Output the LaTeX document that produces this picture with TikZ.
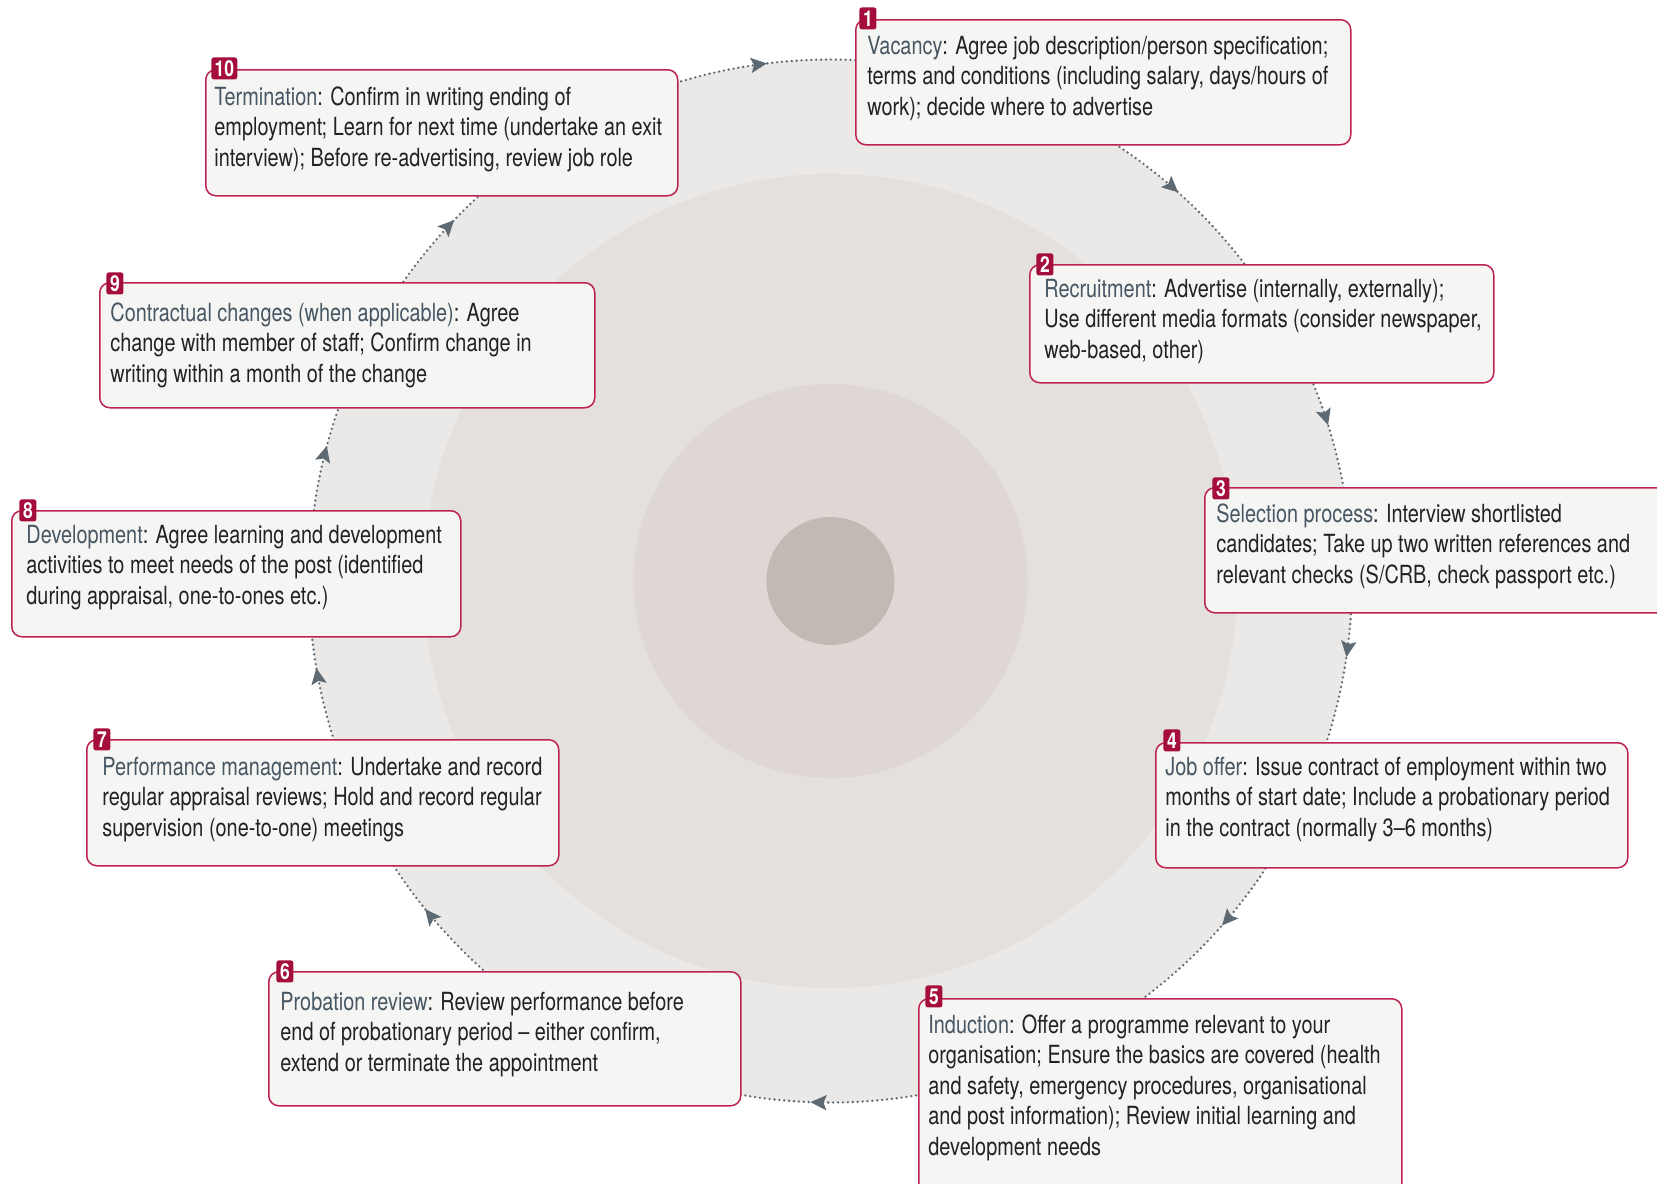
\documentclass[tikz,border=0pt]{standalone}
\usepackage{fontspec}
\setmainfont{TeX Gyre Heros}[FakeStretch=0.795]
\usetikzlibrary{arrows.meta,decorations.markings}
\definecolor{discA}{HTML}{EBE9E7}
\definecolor{discB}{HTML}{E4E0DD}
\definecolor{discC}{HTML}{DED7D3}
\definecolor{discD}{HTML}{C2B8B4}
\definecolor{crim}{HTML}{BE2350}
\definecolor{badgecol}{HTML}{A50D3C}
\definecolor{boxfill}{HTML}{F5F5F3}
\definecolor{slate}{HTML}{465663}
\definecolor{bodytxt}{HTML}{222222}
\definecolor{dotcol}{HTML}{5E6A73}
\newcommand{\ttl}[1]{\textcolor{slate}{#1}}
\begin{document}
\begin{tikzpicture}[x=0.5pt,y=-0.5pt,
  stagebox/.style={draw=crim, line width=0.75pt, fill=boxfill, rounded corners=5pt, anchor=north west, inner sep=0pt},
  badge/.style={fill=badgecol, text=white, font=\bfseries\fontsize{11}{11}\selectfont, rounded corners=1.2pt, anchor=north west, inner xsep=1.6pt, inner ysep=0pt, minimum height=11pt, minimum width=8.5pt},
  stagetext/.style={anchor=base west, inner sep=0pt, align=left, text=bodytxt, font=\fontsize{12.5}{15.25}\selectfont},
  cycarc/.style={draw=dotcol, line width=1.3pt, line cap=round, dash pattern=on 0pt off 2.45pt},
  cyctip/.style={postaction={decorate, decoration={markings, mark=at position #1 with {\arrow[dotcol]{Stealth[length=8pt,width=7.5pt,inset=1.5pt]}}}}}
]
\useasboundingbox (0,0) rectangle (1657,1183);
\fill[white] (0,0) rectangle (1657,1183);
\coordinate (C) at (830.5,581);
% discs
\fill[discA] (C) circle[radius=521.5];
\fill[discB] (C) circle[radius=407];
\fill[discC] (C) circle[radius=197];
\fill[discD] (C) circle[radius=64];
% cycle connectors
\draw[cycarc, cyctip=0.502] ([shift={(-108.8:521.5)}]C) arc[start angle=-108.8, end angle=-85.3, radius=521.5];
\draw[cycarc, cyctip=0.45] ([shift={(-58.5:521.5)}]C) arc[start angle=-58.5, end angle=-35.6, radius=521.5];
\draw[cycarc, cyctip=0.437] ([shift={(-24.3:521.5)}]C) arc[start angle=-24.3, end angle=-8.5, radius=521.5];
\draw[cycarc, cyctip=0.38] ([shift={(1.5:521.5)}]C) arc[start angle=1.5, end angle=19.65, radius=521.5];
\draw[cycarc, cyctip=0.44] ([shift={(31.3:521.5)}]C) arc[start angle=31.3, end angle=54.1, radius=521.5];
\draw[cycarc, cyctip=0.585] ([shift={(78.4:521.5)}]C) arc[start angle=78.4, end angle=102, radius=521.5];
\draw[cycarc, cyctip=0.578] ([shift={(130.2:521.5)}]C) arc[start angle=130.2, end angle=148.9, radius=521.5];
\draw[cycarc, cyctip=0.64] ([shift={(160.6:521.5)}]C) arc[start angle=160.6, end angle=175.9, radius=521.5];
\draw[cycarc, cyctip=0.587] ([shift={(186.2:521.5)}]C) arc[start angle=186.2, end angle=201.2, radius=521.5];
\draw[cycarc, cyctip=0.646] ([shift={(213.4:521.5)}]C) arc[start angle=213.4, end angle=229.5, radius=521.5];
% boxes
\node[stagebox, minimum width=247.5pt, minimum height=62.5pt] (b1) at (855,19) {};
\node[stagebox, minimum width=232pt, minimum height=59pt] (b2) at (1029,264) {};
\node[stagebox, minimum width=243pt, minimum height=62.5pt] (b3) at (1204,487) {};
\node[stagebox, minimum width=236pt, minimum height=62.5pt] (b4) at (1155,742) {};
\node[stagebox, minimum width=241.5pt, minimum height=106pt] (b5) at (918,998) {};
\node[stagebox, minimum width=236pt, minimum height=67pt] (b6) at (268,971) {};
\node[stagebox, minimum width=236pt, minimum height=63pt] (b7) at (86,739) {};
\node[stagebox, minimum width=224.5pt, minimum height=63pt] (b8) at (11,510) {};
\node[stagebox, minimum width=247.5pt, minimum height=62.5pt] (b9) at (99,282) {};
\node[stagebox, minimum width=236pt, minimum height=63pt] (b10) at (205,69) {};
% badges
\node[badge] (n1) at (859,7) {1};
\node[badge] (n2) at (1036,253) {2};
\node[badge] (n3) at (1212,477) {3};
\node[badge] (n4) at (1163,729) {4};
\node[badge] (n5) at (925,985) {5};
\node[badge] (n6) at (276,960) {6};
\node[badge] (n7) at (93,728) {7};
\node[badge] (n8) at (19,499) {8};
\node[badge] (n9) at (106,272) {9};
\node[badge] (n10) at (211,57) {10};
% texts (anchor at baseline of last line)
\node[stagetext] (t1) at (867,115) {\ttl{Vacancy}: Agree job description/person specification;\\terms and conditions (including salary, days/hours of\\work); decide where to advertise};
\node[stagetext] (t2) at (1044,358) {\ttl{Recruitment}: Advertise (internally, externally);\\Use different media formats (consider newspaper,\\web-based, other)};
\node[stagetext] (t3) at (1216,583) {\ttl{Selection process}: Interview shortlisted\\candidates; Take up two written references and\\relevant checks (S/CRB, check passport etc.)};
\node[stagetext] (t4) at (1165,836) {\ttl{Job offer}: Issue contract of employment within two\\months of start date; Include a probationary period\\in the contract (normally 3–6 months)};
\node[stagetext] (t5) at (928,1155) {\ttl{Induction}: Offer a programme relevant to your\\organisation; Ensure the basics are covered (health\\and safety, emergency procedures, organisational\\and post information); Review initial learning and\\development needs};
\node[stagetext] (t6) at (280,1071) {\ttl{Probation review}: Review performance before\\end of probationary period – either confirm,\\extend or terminate the appointment};
\node[stagetext] (t7) at (102,836) {\ttl{Performance management}: Undertake and record\\regular appraisal reviews; Hold and record regular\\supervision (one-to-one) meetings};
\node[stagetext] (t8) at (26,604) {\ttl{Development}: Agree learning and development\\activities to meet needs of the post (identified\\during appraisal, one-to-ones etc.)};
\node[stagetext] (t9) at (110,382) {\ttl{Contractual changes (when applicable)}: Agree\\change with member of staff; Confirm change in\\writing within a month of the change};
\node[stagetext] (t10) at (214,166) {\ttl{Termination}: Confirm in writing ending of\\employment; Learn for next time (undertake an exit\\interview); Before re-advertising, review job role};
\end{tikzpicture}
\end{document}
